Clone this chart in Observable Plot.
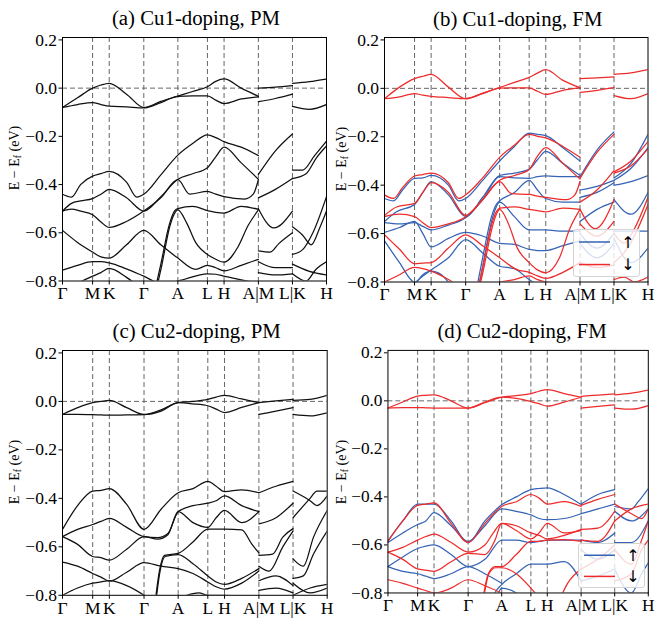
<!DOCTYPE html>
<html><head><meta charset="utf-8">
<script src="https://cdn.jsdelivr.net/npm/d3@7"></script>
<script src="https://cdn.jsdelivr.net/npm/@observablehq/plot@0.6"></script>
<style>
body{margin:0;background:#fff;}
#fig{position:relative;width:656px;height:623px;font-family:"Liberation Serif","Times New Roman",serif;color:#000;overflow:hidden;}
.title{position:absolute;font-size:20.8px;line-height:20px;white-space:nowrap;transform:translateX(-50%);}
.ylab{position:absolute;font-size:14px;line-height:14px;white-space:nowrap;transform:translate(-50%,-50%) rotate(-90deg);}
.ylab sub{font-size:0.7em;vertical-align:-0.25em;line-height:0;}
.panel{position:absolute;}
.legend{position:absolute;background:rgba(255,255,255,0.8);border:1px solid #d4d4d4;border-radius:3px;box-sizing:border-box;}
</style></head><body><div id="fig"></div>
<script>
// ---------- axis data ----------
const kLabels = ["Γ","M","K","Γ","A","L","H","A|M","L|K","H"];
const kTicks  = [0, 0.114, 0.177, 0.308, 0.437, 0.549, 0.612, 0.742, 0.871, 1];
const eTicks  = [0.2, 0.0, -0.2, -0.4, -0.6, -0.8];
const titles  = ["(a) Cu1-doping, PM", "(b) Cu1-doping, FM", "(c) Cu2-doping, PM", "(d) Cu2-doping, FM"];
const spinLabels = ["↑", "↓"];
const colorPM = "#111111", colorUp = "#3563b5", colorDn = "#ee2b2b";

// ---------- bands: [t, E] with t = fractional index along the k-path ticks ----------
const cu1PM = [
 [[0,-0.08],[0.5,-0.04],[1,0.0],[1.5,0.013],[2,0.02],[2.5,-0.025],[3,-0.08],[3.5,-0.055],[4,-0.033],[4.5,-0.014],[5,0.006],[5.5,0.028],[6,0.038],[6.5,0.0],[7,-0.034]],
 [[0,-0.08],[0.5,-0.068],[1,-0.06],[1.5,-0.068],[2,-0.075],[2.5,-0.078],[3,-0.082],[3.5,-0.06],[4,-0.034],[4.5,-0.032],[5,-0.032],[5.5,-0.05],[6,-0.064],[6.5,-0.045],[7,-0.036]],
 [[0,-0.44],[0.3,-0.452],[0.6,-0.4],[1,-0.365],[1.5,-0.355],[2,-0.345],[2.5,-0.39],[2.8,-0.452],[3,-0.44],[3.5,-0.36],[4,-0.278],[4.5,-0.23],[5,-0.194],[5.5,-0.205],[6,-0.222],[6.5,-0.245],[7,-0.28]],
 [[0,-0.51],[0.3,-0.478],[0.6,-0.468],[1,-0.458],[1.5,-0.44],[2,-0.42],[2.5,-0.455],[3,-0.51],[3.5,-0.45],[4,-0.378],[4.5,-0.355],[5,-0.33],[5.5,-0.285],[6,-0.245],[6.5,-0.31],[7,-0.378]],
 [[0,-0.51],[0.3,-0.502],[0.6,-0.51],[1,-0.525],[1.5,-0.555],[2,-0.578],[2.5,-0.553],[3,-0.51],[3.5,-0.455],[4,-0.38],[4.4,-0.44],[5,-0.428],[5.5,-0.44],[6,-0.45],[6.6,-0.46],[6.85,-0.44],[7,-0.38]],
 [[3.2,-0.92],[3.5,-0.73],[3.75,-0.565],[3.9,-0.51],[4,-0.5],[4.5,-0.49],[5,-0.508],[5.5,-0.515],[6,-0.518],[6.5,-0.49],[7,-0.503]],
 [[3.22,-0.93],[3.52,-0.74],[3.77,-0.57],[3.92,-0.515],[4,-0.505],[4.3,-0.56],[4.6,-0.64],[5,-0.69],[5.5,-0.71],[6,-0.722],[6.4,-0.66],[6.7,-0.57],[7,-0.505]],
 [[0,-0.59],[0.5,-0.64],[1,-0.68],[1.5,-0.7],[2,-0.705],[2.5,-0.65],[3,-0.59],[3.5,-0.65],[4,-0.705],[4.6,-0.752],[5,-0.735],[5.5,-0.745],[6,-0.758],[6.5,-0.735],[7,-0.71]],
 [[0,-0.755],[0.5,-0.735],[1,-0.72],[1.5,-0.72],[2,-0.725],[2.5,-0.75],[3,-0.78],[3.5,-0.81],[4,-0.8],[5,-0.77],[5.5,-0.772],[6,-0.78],[6.5,-0.795],[7,-0.81]],
 [[0,-0.85],[0.5,-0.81],[1,-0.78],[1.5,-0.765],[2,-0.748],[2.5,-0.785],[3,-0.84]],
 [[7,0.0],[7.5,0.004],[8,0.01]],
 [[7,-0.056],[7.5,-0.043],[8,-0.025]],
 [[7,-0.358],[7.5,-0.26],[8,-0.19]],
 [[7,-0.455],[7.5,-0.42],[8,-0.375]],
 [[7,-0.5],[7.45,-0.58],[8,-0.51]],
 [[7,-0.675],[7.35,-0.68],[7.6,-0.645],[8,-0.6]],
 [[7,-0.72],[7.5,-0.745],[8,-0.745]],
 [[7,-0.765],[7.5,-0.775],[8,-0.77]],
 [[8,0.02],[8.5,0.027],[9,0.038]],
 [[8,-0.076],[8.5,-0.088],[9,-0.068]],
 [[8,-0.34],[8.3,-0.34],[8.65,-0.28],[9,-0.22]],
 [[8,-0.375],[8.4,-0.355],[8.7,-0.29],[9,-0.24]],
 [[8,-0.575],[8.3,-0.61],[8.55,-0.65],[8.8,-0.58],[9,-0.51]],
 [[8,-0.69],[8.3,-0.67],[8.6,-0.6],[9,-0.45]],
 [[8,-0.73],[8.5,-0.76],[9,-0.775]],
 [[8,-0.77],[8.4,-0.8],[8.7,-0.75],[9,-0.72]]
];

const cu1Up = [
 [[0,-0.455],[0.3,-0.465],[0.6,-0.42],[1,-0.372],[1.5,-0.37],[2,-0.36],[2.5,-0.4],[2.8,-0.465],[3,-0.455],[3.5,-0.38],[4,-0.3],[4.5,-0.24],[5,-0.185],[5.5,-0.19],[6,-0.195],[6.5,-0.245],[7,-0.3]],
 [[0,-0.55],[0.4,-0.51],[1,-0.48],[1.5,-0.43],[2,-0.385],[2.5,-0.44],[3,-0.53],[3.5,-0.45],[4,-0.36],[4.5,-0.35],[5,-0.335],[5.5,-0.295],[6,-0.26],[6.5,-0.31],[7,-0.36]],
 [[0,-0.555],[0.5,-0.56],[1,-0.555],[1.5,-0.57],[2,-0.585],[2.5,-0.565],[3,-0.535],[3.5,-0.46],[4,-0.365],[4.5,-0.37],[5,-0.372],[5.5,-0.365],[6,-0.362],[6.5,-0.365],[7,-0.365]],
 [[3.22,-0.9],[3.5,-0.7],[3.75,-0.535],[3.9,-0.48],[4,-0.465],[4.5,-0.43],[5,-0.38],[5.5,-0.42],[6,-0.455],[6.5,-0.47],[7,-0.47]],
 [[3.28,-0.9],[3.55,-0.7],[3.8,-0.53],[4,-0.47],[4.5,-0.53],[5,-0.585],[5.5,-0.585],[6,-0.585],[6.5,-0.59],[7,-0.59]],
 [[0,-0.595],[0.5,-0.575],[1,-0.55],[1.5,-0.6],[2,-0.655],[2.5,-0.62],[3,-0.595],[3.5,-0.61],[4,-0.64],[4.5,-0.645],[5,-0.665],[5.5,-0.67],[6,-0.67],[6.5,-0.65],[7,-0.63]],
 [[0,-0.63],[0.5,-0.72],[1,-0.8],[1.5,-0.775],[2,-0.75],[2.5,-0.7],[3,-0.625],[3.5,-0.68],[4,-0.735],[4.5,-0.745],[5,-0.79],[5.5,-0.81],[6,-0.82]],
 [[0,-0.86],[1,-0.81],[1.5,-0.77],[2,-0.755],[2.3,-0.77],[2.5,-0.8],[3,-0.86]],
 [[7,-0.365],[7.5,-0.255],[8,-0.18]],
 [[7,-0.42],[7.5,-0.405],[8,-0.38]],
 [[7,-0.45],[7.5,-0.43],[8,-0.39]],
 [[7,-0.55],[7.5,-0.5],[8,-0.47]],
 [[7,-0.6],[7.5,-0.66],[8,-0.6]],
 [[7,-0.64],[7.5,-0.7],[8,-0.64]],
 [[8,-0.37],[8.5,-0.31],[9,-0.19]],
 [[8,-0.38],[8.5,-0.33],[9,-0.245]],
 [[8,-0.4],[8.5,-0.385],[9,-0.36]],
 [[8,-0.46],[8.5,-0.52],[9,-0.43]],
 [[8,-0.59],[8.5,-0.59],[9,-0.59]],
 [[8,-0.62],[8.5,-0.72],[9,-0.66]]
];

const cu1Dn = [
 [[0,-0.043],[0.5,0.005],[1,0.04],[1.5,0.05],[2,0.058],[2.5,0.005],[3,-0.043],[3.5,-0.02],[4,0.003],[4.5,0.025],[5,0.045],[5.5,0.063],[6,0.077],[6.5,0.033],[7,0.003]],
 [[0,-0.043],[0.5,-0.035],[1,-0.022],[1.5,-0.028],[2,-0.033],[2.5,-0.038],[3,-0.043],[3.5,-0.022],[4,0.001],[4.5,0.002],[5,0.002],[5.5,-0.012],[6,-0.025],[6.5,-0.008],[7,0.003]],
 [[0,-0.44],[0.3,-0.455],[0.6,-0.41],[1,-0.362],[1.5,-0.356],[2,-0.35],[2.5,-0.39],[2.8,-0.455],[3,-0.44],[3.5,-0.37],[4,-0.285],[4.5,-0.235],[5,-0.19],[5.5,-0.198],[6,-0.205],[6.5,-0.24],[7,-0.285]],
 [[0,-0.525],[0.4,-0.49],[1,-0.475],[1.5,-0.43],[2,-0.39],[2.5,-0.43],[3,-0.525],[3.5,-0.46],[4,-0.38],[4.5,-0.36],[5,-0.335],[5.5,-0.28],[6,-0.245],[6.5,-0.31],[7,-0.375]],
 [[0,-0.53],[0.5,-0.52],[1,-0.53],[1.5,-0.555],[2,-0.575],[2.5,-0.56],[3,-0.53],[3.5,-0.46],[4,-0.385],[4.4,-0.435],[5,-0.438],[5.5,-0.445],[6,-0.45],[6.6,-0.46],[6.85,-0.44],[7,-0.385]],
 [[3.2,-0.93],[3.5,-0.74],[3.75,-0.57],[3.9,-0.51],[4,-0.495],[4.5,-0.49],[5,-0.5],[5.5,-0.505],[6,-0.51],[6.5,-0.495],[7,-0.5]],
 [[3.23,-0.93],[3.53,-0.745],[3.78,-0.575],[3.92,-0.515],[4,-0.5],[4.3,-0.56],[4.6,-0.66],[5,-0.72],[5.5,-0.75],[6,-0.762],[6.4,-0.7],[6.7,-0.58],[7,-0.5]],
 [[0,-0.605],[0.5,-0.665],[1,-0.725],[1.5,-0.722],[2,-0.72],[2.5,-0.66],[3,-0.605],[3.5,-0.65],[4,-0.7],[4.6,-0.75],[5,-0.76],[5.5,-0.775],[6,-0.785],[6.5,-0.76],[7,-0.72]],
 [[0,-0.8],[0.5,-0.77],[1,-0.74],[1.5,-0.745],[2,-0.755],[2.5,-0.79],[3,-0.84]],
 [[4,-0.8],[4.5,-0.79],[5,-0.775],[5.5,-0.79],[6,-0.8],[7,-0.81]],
 [[7,0.04],[7.5,0.043],[8,0.047]],
 [[7,-0.017],[7.5,-0.008],[8,0.003]],
 [[7,-0.372],[7.5,-0.265],[8,-0.19]],
 [[7,-0.47],[7.5,-0.42],[8,-0.34]],
 [[7,-0.5],[7.45,-0.58],[8,-0.46]],
 [[7,-0.56],[7.5,-0.61],[8,-0.55]],
 [[7,-0.72],[7.5,-0.74],[8,-0.73]],
 [[8,0.058],[8.5,0.064],[9,0.077]],
 [[8,-0.03],[8.5,-0.043],[9,-0.022]],
 [[8,-0.345],[8.5,-0.3],[9,-0.22]],
 [[8,-0.35],[8.5,-0.32],[9,-0.25]],
 [[8,-0.6],[8.3,-0.64],[8.6,-0.58],[9,-0.45]],
 [[8,-0.72],[8.4,-0.66],[8.7,-0.58],[9,-0.48]],
 [[8,-0.79],[8.3,-0.78],[8.6,-0.8],[9,-0.78]]
];

const cu2PM = [
 [[0,-0.054],[0.5,-0.026],[1,-0.005],[1.5,0.0],[2,0.004],[2.5,-0.026],[3,-0.054],[3.5,-0.035],[4,-0.005],[4.5,0.0],[5,0.008],[5.5,0.018],[6,0.025],[6.5,0.01],[7,-0.005]],
 [[0,-0.054],[0.5,-0.054],[1,-0.055],[1.5,-0.056],[2,-0.057],[2.5,-0.056],[3,-0.055],[3.5,-0.04],[4,-0.005],[4.5,-0.01],[5,-0.018],[5.5,-0.032],[6,-0.046],[6.5,-0.025],[7,-0.005]],
 [[0,-0.528],[0.5,-0.43],[1,-0.37],[1.5,-0.367],[2,-0.36],[2.5,-0.425],[3,-0.528],[3.5,-0.445],[4,-0.377],[4.5,-0.36],[5,-0.33],[5.5,-0.35],[6,-0.372],[6.5,-0.365],[7,-0.377]],
 [[0,-0.558],[0.5,-0.528],[1,-0.508],[1.5,-0.495],[2,-0.483],[2.5,-0.52],[3,-0.558],[3.4,-0.562],[3.7,-0.545],[4,-0.455],[4.5,-0.43],[5,-0.42],[5.5,-0.41],[6,-0.39],[6.5,-0.43],[7,-0.455]],
 [[0,-0.558],[0.5,-0.59],[1,-0.64],[1.5,-0.645],[2,-0.655],[2.5,-0.61],[3,-0.558],[3.4,-0.568],[3.7,-0.55],[4,-0.455],[4.5,-0.5],[5,-0.52],[5.5,-0.48],[6,-0.45],[6.5,-0.5],[7,-0.455]],
 [[3.3,-0.86],[3.45,-0.7],[3.6,-0.635],[4,-0.627],[4.5,-0.58],[5,-0.527],[5.5,-0.527],[6,-0.527],[6.5,-0.53],[6.8,-0.59],[7,-0.625]],
 [[3.32,-0.86],[3.47,-0.7],[3.62,-0.64],[4,-0.632],[4.5,-0.67],[5,-0.72],[5.5,-0.745],[6,-0.755],[6.5,-0.73],[7,-0.69]],
 [[0,-0.663],[0.5,-0.68],[1,-0.71],[1.5,-0.725],[2,-0.742],[2.5,-0.705],[3,-0.665],[3.5,-0.68],[4,-0.69],[4.5,-0.71],[5,-0.745],[5.5,-0.765],[6,-0.775],[6.5,-0.75],[7,-0.7]],
 [[0,-0.8],[0.5,-0.77],[1,-0.75],[1.5,-0.745],[2,-0.74],[2.5,-0.76],[3,-0.8],[3.3,-0.83]],
 [[3.8,-0.83],[4,-0.815],[4.7,-0.79],[5,-0.8],[6,-0.8],[7,-0.82]],
 [[7,-0.005],[7.5,0.002],[8,0.008]],
 [[7,-0.054],[7.5,-0.04],[8,-0.026]],
 [[7,-0.377],[7.5,-0.35],[8,-0.33]],
 [[7,-0.505],[7.5,-0.48],[8,-0.42]],
 [[7,-0.635],[7.4,-0.63],[7.7,-0.56],[8,-0.525]],
 [[7,-0.68],[7.3,-0.7],[7.7,-0.6],[8,-0.535]],
 [[7,-0.74],[7.5,-0.72],[8,-0.76]],
 [[7,-0.78],[7.5,-0.77],[8,-0.79]],
 [[8,0.004],[8.5,0.008],[9,0.025]],
 [[8,-0.054],[8.5,-0.06],[9,-0.047]],
 [[8,-0.37],[8.5,-0.41],[8.7,-0.43],[9,-0.39]],
 [[8,-0.48],[8.5,-0.4],[8.7,-0.37],[9,-0.37]],
 [[8,-0.65],[8.3,-0.68],[8.6,-0.56],[9,-0.45]],
 [[8,-0.73],[8.3,-0.72],[8.6,-0.63],[9,-0.535]],
 [[8,-0.75],[8.5,-0.79],[9,-0.77]],
 [[8,-0.8],[8.5,-0.77],[9,-0.755]]
];

const cu2Up = [
 [[0,-0.583],[0.5,-0.5],[1,-0.43],[1.5,-0.43],[2,-0.43],[2.5,-0.5],[3,-0.59],[3.5,-0.5],[4,-0.433],[4.5,-0.4],[5,-0.37],[5.5,-0.365],[6,-0.362],[6.5,-0.39],[7,-0.432]],
 [[0,-0.59],[0.5,-0.55],[1,-0.515],[1.5,-0.5],[2,-0.465],[2.5,-0.52],[3,-0.585],[3.5,-0.52],[4,-0.45],[4.5,-0.46],[5,-0.475],[5.5,-0.49],[6,-0.495],[6.5,-0.49],[7,-0.47]],
 [[0,-0.69],[0.5,-0.65],[1,-0.615],[1.5,-0.605],[2,-0.6],[2.5,-0.64],[3,-0.69],[3.5,-0.66],[4,-0.58],[4.5,-0.58],[5,-0.59],[5.5,-0.585],[6,-0.58],[6.5,-0.58],[7,-0.58]],
 [[0,-0.69],[0.5,-0.71],[1,-0.72],[1.5,-0.73],[2,-0.74],[2.5,-0.72],[3,-0.69],[3.5,-0.72],[4,-0.76]],
 [[3.5,-0.95],[3.8,-0.8],[4,-0.765],[4.5,-0.72],[5,-0.68],[5.5,-0.68],[6,-0.68],[6.5,-0.67],[7,-0.75]],
 [[0,-0.8],[0.4,-0.83]],
 [[2.6,-0.83],[3,-0.8],[3.4,-0.83]],
 [[3.6,-0.95],[3.9,-0.8],[4,-0.78],[4.5,-0.8],[5,-0.85]],
 [[7,-0.43],[7.5,-0.39],[8,-0.37]],
 [[7,-0.47],[7.5,-0.45],[8,-0.43]],
 [[7,-0.58],[7.5,-0.59],[8,-0.55]],
 [[7,-0.62],[7.5,-0.66],[8,-0.62]],
 [[7,-0.75],[7.5,-0.73],[8,-0.7]],
 [[8,-0.44],[8.5,-0.45],[8.7,-0.42],[9,-0.365]],
 [[8,-0.46],[8.5,-0.5],[9,-0.45]],
 [[8,-0.59],[8.5,-0.59],[9,-0.5]],
 [[8,-0.7],[8.5,-0.8],[8.8,-0.72],[9,-0.675]]
];

const cu2Dn = [
 [[0,-0.03],[0.5,-0.005],[1,0.02],[1.5,0.023],[2,0.025],[2.5,0.0],[3,-0.03],[3.5,-0.008],[4,0.015],[4.5,0.022],[5,0.03],[5.5,0.04],[6,0.047],[6.5,0.03],[7,0.015]],
 [[0,-0.03],[0.5,-0.028],[1,-0.028],[1.5,-0.029],[2,-0.03],[2.5,-0.03],[3,-0.03],[3.5,-0.005],[4,0.015],[4.5,0.01],[5,-0.003],[5.5,-0.012],[6,-0.022],[6.5,-0.005],[7,0.015]],
 [[0,-0.585],[0.5,-0.5],[1,-0.435],[1.5,-0.43],[2,-0.425],[2.5,-0.51],[3,-0.59],[3.5,-0.51],[4,-0.44],[4.5,-0.42],[5,-0.39],[5.5,-0.405],[6,-0.43],[6.5,-0.42],[7,-0.44]],
 [[0,-0.63],[0.5,-0.61],[1,-0.58],[1.5,-0.565],[2,-0.555],[2.5,-0.59],[3,-0.63],[3.5,-0.6],[3.75,-0.55],[4,-0.51],[4.5,-0.54],[5,-0.575],[5.5,-0.55],[6,-0.51],[6.5,-0.55],[7,-0.54]],
 [[0,-0.63],[0.5,-0.66],[1,-0.7],[1.5,-0.705],[2,-0.71],[2.5,-0.67],[3,-0.635],[3.5,-0.64],[3.8,-0.58],[4,-0.51],[4.5,-0.52],[5,-0.55],[5.5,-0.56],[6,-0.575],[6.5,-0.56],[7,-0.535]],
 [[3.4,-0.86],[3.6,-0.72],[3.8,-0.69],[4,-0.69],[4.5,-0.64],[5,-0.585],[5.5,-0.585],[6,-0.58],[6.5,-0.578],[7,-0.585]],
 [[3.42,-0.86],[3.62,-0.72],[3.82,-0.695],[4,-0.695],[4.5,-0.72],[5,-0.78],[5.5,-0.82]],
 [[0,-0.745],[0.5,-0.76],[1,-0.78],[1.5,-0.79],[2,-0.8],[2.5,-0.78],[3,-0.745],[3.5,-0.77],[4,-0.8]],
 [[6.3,-0.85],[6.6,-0.76],[7,-0.7]],
 [[7,0.019],[7.5,0.024],[8,0.029]],
 [[7,-0.03],[7.5,-0.023],[8,-0.017]],
 [[7,-0.435],[7.5,-0.41],[8,-0.39]],
 [[7,-0.535],[7.5,-0.53],[8,-0.46]],
 [[7,-0.58],[7.5,-0.585],[8,-0.5]],
 [[7,-0.7],[7.5,-0.66],[8,-0.6]],
 [[8,0.025],[8.5,0.032],[9,0.045]],
 [[8,-0.03],[8.5,-0.035],[9,-0.02]],
 [[8,-0.43],[8.5,-0.47],[8.8,-0.49],[9,-0.45]],
 [[8,-0.5],[8.5,-0.45],[9,-0.43]],
 [[8,-0.62],[8.5,-0.68],[8.8,-0.58],[9,-0.5]],
 [[8,-0.75],[8.5,-0.72],[8.8,-0.62],[9,-0.58]]
];

// ---------- helpers ----------
const tToK = d3.scaleLinear().domain(d3.range(kTicks.length)).range(kTicks);
const kLab = new Map(kTicks.map((k, i) => [k, kLabels[i]]));
const fmtE = d => (d < 0 ? "\u2212" : "") + Math.abs(d).toFixed(1);
function rows(bands, tag) {
  return bands.flatMap((b, i) => b.map(([t, e]) => ({k: tToK(t), E: e, id: tag + i})));
}
const fig = document.getElementById("fig");
const mL = 46, mR = 8, mT = 8, mB = 30;

function panel({x0, y0, w, h, title, layers, ylabX, legend}) {
  const dash = {stroke: "#666", strokeWidth: 1, strokeDasharray: "5,3"};
  const chart = Plot.plot({
    width: w + mL + mR, height: h + mT + mB,
    marginLeft: mL, marginRight: mR, marginTop: mT, marginBottom: mB,
    style: {fontFamily: '"Liberation Serif","Times New Roman",serif', fontSize: "17.5px", color: "#000", background: "transparent", overflow: "visible"},
    x: {domain: [0, 1], ticks: kTicks, tickFormat: d => kLab.get(d), tickSize: 4, tickPadding: 2, label: null},
    y: {domain: [-0.8, 0.21], ticks: eTicks, tickFormat: fmtE, tickSize: 3.5, tickPadding: 2, label: null},
    marks: [
      Plot.ruleX(kTicks.slice(1, -1), dash),
      Plot.ruleY([0], dash),
      ...layers.map(([data, color]) => Plot.line(data, {x: "k", y: "E", z: "id", stroke: color, strokeWidth: 1.25, curve: "monotone-x", clip: true})),
      Plot.frame({stroke: "#000", strokeWidth: 1})
    ]
  });
  const box = document.createElement("div");
  box.className = "panel";
  box.style.left = (x0 - mL) + "px";
  box.style.top = (y0 - mT) + "px";
  box.appendChild(chart);
  fig.appendChild(box);

  const t = document.createElement("div");
  t.className = "title";
  t.textContent = title;
  t.style.left = (x0 + w / 2 + 2) + "px";
  t.style.top = (y0 - 28.5) + "px";
  fig.appendChild(t);

  const yl = document.createElement("div");
  yl.className = "ylab";
  yl.innerHTML = "E \u2212 E<sub>f</sub> (eV)";
  yl.style.left = ylabX + "px";
  yl.style.top = (y0 + h / 2) + "px";
  fig.appendChild(yl);

  if (legend) {
    const lg = document.createElement("div");
    lg.className = "legend";
    lg.style.left = legend.x + "px"; lg.style.top = legend.y + "px";
    lg.style.width = legend.w + "px"; lg.style.height = legend.h + "px";
    const ns = "http://www.w3.org/2000/svg";
    const s = document.createElementNS(ns, "svg");
    s.setAttribute("width", legend.w); s.setAttribute("height", legend.h);
    [[colorUp, spinLabels[0], 0.25], [colorDn, spinLabels[1], 0.72]].forEach(([c, lab, f]) => {
      const yy = legend.h * f;
      const ln = document.createElementNS(ns, "line");
      ln.setAttribute("x1", 5); ln.setAttribute("x2", 36);
      ln.setAttribute("y1", yy); ln.setAttribute("y2", yy);
      ln.setAttribute("stroke", c); ln.setAttribute("stroke-width", 1.5);
      s.appendChild(ln);
      const tx = document.createElementNS(ns, "text");
      tx.setAttribute("x", 54); tx.setAttribute("y", yy);
      tx.setAttribute("text-anchor", "middle"); tx.setAttribute("dominant-baseline", "central");
      tx.setAttribute("font-size", "16"); tx.setAttribute("font-family", "DejaVu Sans, sans-serif");
      tx.textContent = lab;
      s.appendChild(tx);
    });
    lg.appendChild(s);
    fig.appendChild(lg);
  }
}

panel({x0: 62, y0: 36.5, w: 264, h: 243.5, title: titles[0], ylabX: 15,
  layers: [[rows(cu1PM, "a"), colorPM]]});
panel({x0: 384, y0: 37, w: 263.5, h: 244.5, title: titles[1], ylabX: 342,
  layers: [[rows(cu1Up, "u"), colorUp], [rows(cu1Dn, "d"), colorDn]],
  legend: {x: 573, y: 229, w: 67, h: 48}});
panel({x0: 62.3, y0: 349.5, w: 264.7, h: 244.8, title: titles[2], ylabX: 15,
  layers: [[rows(cu2PM, "c"), colorPM]]});
panel({x0: 388.3, y0: 349.5, w: 263.5, h: 245.5, title: titles[3], ylabX: 342,
  layers: [[rows(cu2Up, "u"), colorUp], [rows(cu2Dn, "d"), colorDn]],
  legend: {x: 578, y: 543, w: 67, h: 45}});
</script></body></html>
